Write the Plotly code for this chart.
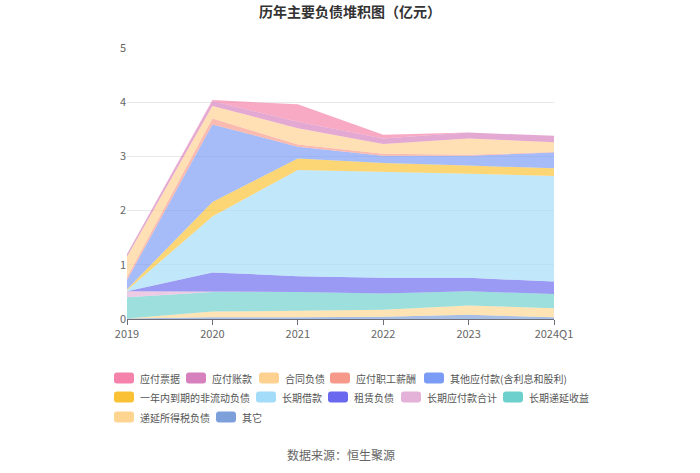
import plotly.graph_objects as go

periods = ["2019", "2020", "2021", "2022", "2023", "2024Q1"]

# stack order: bottom -> top
qita = [0.01, 0.03, 0.03, 0.04, 0.08, 0.03]            # 其它
diyan_suodeshui = [0.0, 0.11, 0.12, 0.13, 0.17, 0.17]   # 递延所得税负债
diyan_shouyi = [0.39, 0.36, 0.35, 0.30, 0.26, 0.26]     # 长期递延收益
changqi_yingfu = [0.11, 0.0, 0.0, 0.0, 0.0, 0.0]        # 长期应付款合计
zulin = [0.0, 0.36, 0.29, 0.29, 0.25, 0.23]             # 租赁负债
changqi_jiekuan = [0.02, 1.03, 1.96, 1.96, 1.92, 1.95]  # 长期借款
yinian_daoqi = [0.02, 0.27, 0.21, 0.16, 0.15, 0.14]     # 一年内到期的非流动负债
qita_yingfu = [0.17, 1.43, 0.22, 0.13, 0.18, 0.29]      # 其他应付款(含利息和股利)
zhigong_xinchou = [0.05, 0.11, 0.04, 0.04, 0.02, 0.01]  # 应付职工薪酬
hetong_fuzhai = [0.38, 0.23, 0.30, 0.18, 0.30, 0.18]    # 合同负债
yingfu_zhangkuan = [0.05, 0.09, 0.12, 0.10, 0.11, 0.12] # 应付账款
yingfu_piaoju = [0.0, 0.02, 0.32, 0.07, 0.0, 0.0]       # 应付票据

series = [
    ("其它", qita, (125, 160, 218)),
    ("递延所得税负债", diyan_suodeshui, (253, 213, 145)),
    ("长期递延收益", diyan_shouyi, (110, 208, 204)),
    ("长期应付款合计", changqi_yingfu, (228, 178, 216)),
    ("租赁负债", zulin, (106, 104, 238)),
    ("长期借款", changqi_jiekuan, (163, 220, 248)),
    ("一年内到期的非流动负债", yinian_daoqi, (251, 193, 52)),
    ("其他应付款(含利息和股利)", qita_yingfu, (123, 156, 245)),
    ("应付职工薪酬", zhigong_xinchou, (247, 153, 138)),
    ("合同负债", hetong_fuzhai, (253, 210, 145)),
    ("应付账款", yingfu_zhangkuan, (214, 128, 190)),
    ("应付票据", yingfu_piaoju, (245, 130, 170)),
]

# legend layout (pixel positions of swatch left edge and row centre)
legend_order = ["应付票据", "应付账款", "合同负债", "应付职工薪酬", "其他应付款(含利息和股利)",
                "一年内到期的非流动负债", "长期借款", "租赁负债", "长期应付款合计", "长期递延收益",
                "递延所得税负债", "其它"]
legend_pos = [(114, 378), (186, 378), (259, 378), (330, 378), (424, 378),
              (114, 397), (256, 397), (328, 397), (401, 397), (503, 397),
              (114, 417), (216, 417)]

fig = go.Figure()
for name, vals, (r, g, b) in series:
    fig.add_trace(go.Scatter(
        x=periods, y=vals, name=name, stackgroup="one",
        mode="lines", line=dict(width=0, color=f"rgb({r},{g},{b})"),
        fillcolor=f"rgba({r},{g},{b},0.68)", hoverinfo="skip", showlegend=False,
    ))

FONT = "Noto Sans CJK SC, Noto Sans, sans-serif"
L, R, T, B = 127, 146, 48, 154
W, H = 700, 473
plot_w = W - L - R
plot_h = H - T - B


def px(xp):
    return (xp - L) / plot_w


def py(yp):
    return (H - B - yp) / plot_h


color_of = {name: rgb for name, _, rgb in series}
shapes = []
annotations = []
sw, sh, rad = 20, 11, 3
for name, (x0, yc) in zip(legend_order, legend_pos):
    r, g, b = color_of[name]
    x1 = x0 + sw
    y0, y1 = yc - sh / 2, yc + sh / 2
    pts = [
        f"M{px(x0 + rad)},{py(y0)}",
        f"L{px(x1 - rad)},{py(y0)}",
        f"Q{px(x1)},{py(y0)} {px(x1)},{py(y0 + rad)}",
        f"L{px(x1)},{py(y1 - rad)}",
        f"Q{px(x1)},{py(y1)} {px(x1 - rad)},{py(y1)}",
        f"L{px(x0 + rad)},{py(y1)}",
        f"Q{px(x0)},{py(y1)} {px(x0)},{py(y1 - rad)}",
        f"L{px(x0)},{py(y0 + rad)}",
        f"Q{px(x0)},{py(y0)} {px(x0 + rad)},{py(y0)}",
        "Z",
    ]
    shapes.append(dict(type="path", xref="paper", yref="paper", path=" ".join(pts),
                       fillcolor=f"rgb({r},{g},{b})", line=dict(width=0), layer="above"))
    annotations.append(dict(text=name, xref="paper", yref="paper", x=px(x1 + 4), y=py(yc),
                            xanchor="left", yanchor="middle", showarrow=False,
                            font=dict(size=10, color="#555", family=FONT)))

annotations.append(dict(text="数据来源：恒生聚源", xref="paper", yref="paper",
                        x=0.5, y=py(455), xanchor="center", yanchor="middle",
                        showarrow=False, font=dict(size=12, color="#666", family=FONT)))

fig.update_layout(
    width=W, height=H,
    margin=dict(l=L, r=R, t=T, b=B),
    paper_bgcolor="white", plot_bgcolor="white",
    font=dict(family=FONT, size=12, color="#666"),
    title=dict(text="<b>历年主要负债堆积图（亿元）</b>", x=0.5, xanchor="center",
               y=1 - 12 / H, yanchor="middle",
               font=dict(size=14, color="#333", family=FONT)),
    showlegend=False,
    xaxis=dict(type="category", range=[0, 5], showgrid=False,
               showline=True, linecolor="#6e7079", ticks="outside",
               tickcolor="#6e7079", ticklen=5, tickfont=dict(size=11, color="#666")),
    yaxis=dict(range=[0, 5], dtick=1, showgrid=True, gridcolor="#e8e8e8",
               zeroline=False, showline=False, tickfont=dict(size=11, color="#666")),
    shapes=shapes,
    annotations=annotations,
)

fig.write_html("out.html")
